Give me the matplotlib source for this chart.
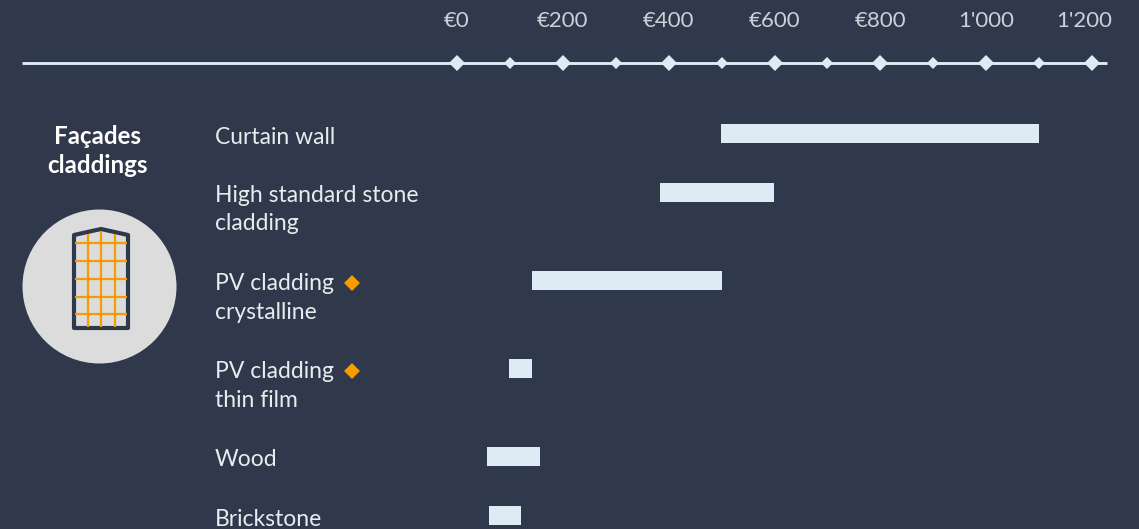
import matplotlib
matplotlib.use('Agg')
import matplotlib.pyplot as plt
from matplotlib.patches import Circle, Polygon

categories = ['Curtain wall', 'High standard stone\ncladding', 'PV cladding\ncrystalline',
              'PV cladding\nthin film', 'Wood', 'Brickstone']
low_values = [499, 384, 142, 98, 57, 60]
high_values = [1100, 599, 500, 142, 157, 121]
major_ticks = [0, 200, 400, 600, 800, 1000, 1200]
minor_ticks = [100, 300, 500, 700, 900, 1100]
tick_labels = ['€0', '€200', '€400', '€600', '€800', "1'000", "1'200"]
has_marker = [False, False, True, True, False, False]

BG = '#2f394b'
LIGHT = '#deeaf4'
ORANGE = '#f89b00'
W, H = 1139, 529
X0, PX = 457.0, 635 / 1200

plt.rcParams['font.family'] = ['Lato', 'DejaVu Sans']
fig = plt.figure(figsize=(W / 100, H / 100), dpi=100, facecolor=BG)

# pixel axes for layout, euro axes on top of it for the data
bg = fig.add_axes([0, 0, 1, 1])
bg.set_xlim(0, W)
bg.set_ylim(H, 0)
bg.axis('off')
ax = fig.add_axes([0, 0, 1, 1], sharey=bg)
ax.set_xlim(-X0 / PX, (W - X0) / PX)
ax.patch.set_alpha(0)
ax.axis('off')

# axis line
y_axis = 63
bg.plot([22, 1107], [y_axis, y_axis], color=LIGHT, lw=2.1, solid_capstyle='butt')
ax.plot(major_ticks, [y_axis] * len(major_ticks), ls='', marker='D', ms=8.2, color=LIGHT, mew=0)
ax.plot(minor_ticks, [y_axis] * len(minor_ticks), ls='', marker='D', ms=5.9, color=LIGHT, mew=0)
# last label sits a bit left of its tick in the original
label_shift = [0, 0, 0, 0, 0, 0, -8]
for t, lab, s in zip(major_ticks, tick_labels, label_shift):
    ax.annotate(lab, (t, 21), xytext=(s * 0.72, 0), textcoords='offset points',
                color='#ccd1d8', fontsize=16, ha='center', va='center')

# bars
y_bars = [133.5, 192.5, 280.5, 368.5, 456.5, 515.5]
y_labels = [137, 209.5, 298, 386, 460, 519]
widths = [h - l for l, h in zip(low_values, high_values)]
ax.barh(y_bars, widths, left=low_values, height=19, color=LIGHT, linewidth=0)

for c, yl, m, yb in zip(categories, y_labels, has_marker, y_bars):
    bg.text(215, yl, c, color='#e9ecef', fontsize=16.5, ha='left', va='center', linespacing=1.43)
    if m:
        bg.plot([352], [yb + 2], marker='D', ms=8.4, color=ORANGE, mew=0, ls='')

# group title and icon
bg.text(97, 151, 'Façades\ncladdings', color='white', fontsize=17.4, fontweight='bold',
        ha='center', va='center', linespacing=1.3)
bg.add_patch(Circle((99.5, 286.5), 77, color='#dcdcdc', lw=0))

for y in [243, 261, 279, 297, 314]:
    bg.plot([75, 127], [y, y], color=ORANGE, lw=1.6, solid_capstyle='butt')
for x, top in [(88, 234), (101, 231), (115, 234)]:
    bg.plot([x, x], [top, 327], color=ORANGE, lw=1.6, solid_capstyle='butt')
bg.add_patch(Polygon([(74, 235), (101, 229), (128, 235), (128, 328), (74, 328)], closed=True,
                     fill=False, edgecolor=BG, lw=3, joinstyle='round'))

fig.savefig('out.png', dpi=100, facecolor=BG)
